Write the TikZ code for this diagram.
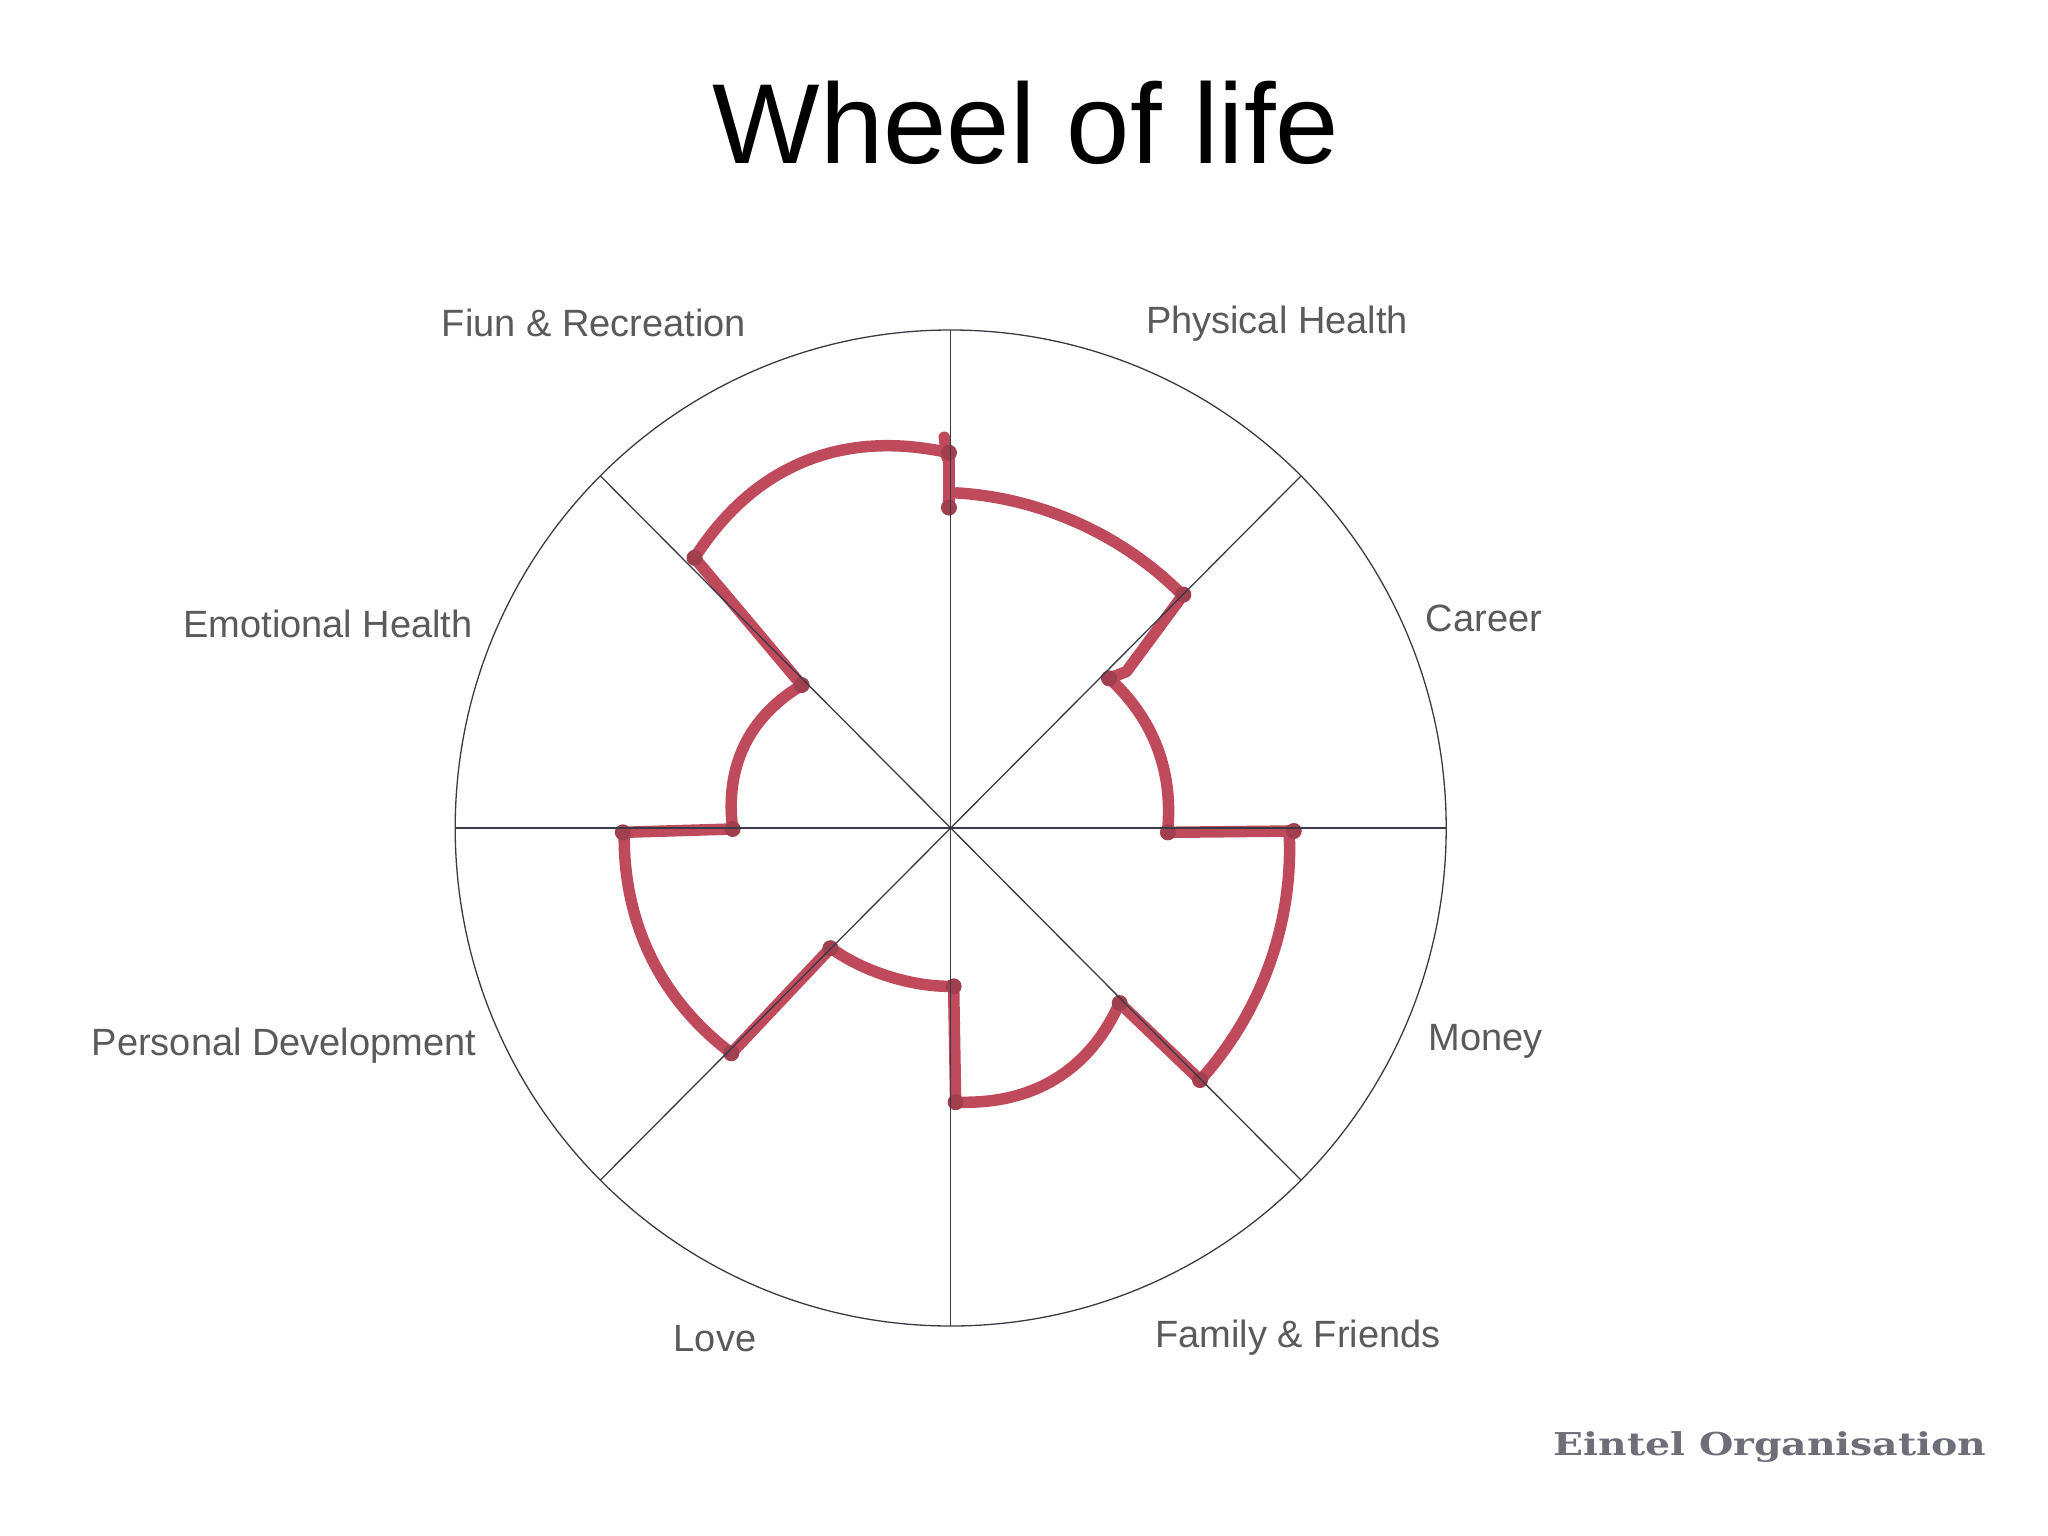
\documentclass[tikz,border=0pt]{standalone}
\usepackage{fontspec}
\setmainfont{Liberation Sans}
\newfontfamily\eintelfont[FakeStretch=1.25]{DejaVu Serif}
\definecolor{wheelred}{HTML}{BE4A5C}
\definecolor{wheelline}{HTML}{3A3A44}
\definecolor{labelgrey}{HTML}{5A5A5A}
\definecolor{markgrey}{HTML}{6E6E78}
\tikzset{
  wheelstroke/.style={draw=wheelline,line width=1.3pt},
  redstroke/.style={draw=wheelred,line width=11.5pt,line cap=round,line join=round},
  wheellabel/.style={text=labelgrey,font=\fontsize{38}{42}\selectfont,inner sep=0pt,anchor=center},
  reddot/.style={fill=wheelred!85!black,draw=none},
}
% start angle, end angle, start radius, end radius, bulge
\newcommand\redarc[5]{\draw[redstroke] plot[domain=0:1,samples=40,smooth] ({778+(#3+(#4-#3)*\x+#5*sin(180*\x))*cos(#1+(#2-#1)*\x)},{788-(#3+(#4-#3)*\x+#5*sin(180*\x))*sin(#1+(#2-#1)*\x)});}
\begin{document}
\begin{tikzpicture}[x=1pt,y=-1pt]
\useasboundingbox (0,0) rectangle (2048,1536);
\node[inner sep=0pt,text=black,font=\fontsize{113.8}{130}\selectfont] (title) at (1026,123) {Wheel of life};
% marks, in coordinates of the enlarged view
\begin{scope}[shift={(430,300)},x=0.6696pt,y=-0.6696pt]
\redarc{89}{45}{500}{490}{-2}
\draw[redstroke] (1125,440) -- (1040,555) -- (1014,565);
\redarc{43.4}{0}{325}{324}{6}
\draw[redstroke] (1102,795) -- (1290,793);
\redarc{-0.5}{-45.4}{505}{530}{0}
\draw[redstroke] (1150,1165) -- (1030,1050);
\redarc{-46}{-89}{363}{410}{20}
\draw[redstroke] (785,1198) -- (782,1025);
\redarc{-89}{-135}{237}{254}{-5}
\draw[redstroke] (598,968) -- (450,1125);
\redarc{-134.2}{-179.4}{470}{488}{9}
\draw[redstroke] (288,795) -- (452,790);
\redarc{180.4}{136.3}{326}{308}{15}
\draw[redstroke] (555,575) -- (395,385);
\redarc{133.5}{90.3}{556}{560}{31}
\draw[redstroke] (775,228) -- (775,310);
\draw[redstroke] (768,205) -- (772,235);
\foreach \p in {(1125,440),(1014,565),(1102,795),(1290,793),(1150,1165),(1030,1050),(785,1198),(782,1025),(598,968),(450,1125),(288,795),(452,790),(555,575),(395,385),(775,228),(775,310)}
  \fill[reddot] \p circle[radius=8pt];
\end{scope}
% wheel
\coordinate (c) at (950.7,828);
\draw[wheelstroke] (c) ellipse[x radius=495.5,y radius=498];
\foreach \a in {0,45,...,315}{\draw[wheelstroke] (c) -- ++({495.5*cos(\a)},{498*sin(\a)});}
% labels
\node[wheellabel] (fun) at (594,323) {Fiun \& Recreation};
\node[wheellabel] (phys) at (1277,324) {Physical Health};
\node[wheellabel] (career) at (1484,618) {Career};
\node[wheellabel] (money) at (1485.5,1041) {Money};
\node[wheellabel] (family) at (1298,1338) {Family \& Friends};
\node[wheellabel] (love) at (715,1339) {Love};
\node[wheellabel] (pers) at (284,1046) {Personal Development};
\node[wheellabel] (emot) at (328,624) {Emotional Health};
\node[inner sep=0pt,text=markgrey,font=\eintelfont\bfseries\fontsize{31.5}{36}\selectfont] (mark) at (1770,1447) {Eintel Organisation};
\end{tikzpicture}
\end{document}
